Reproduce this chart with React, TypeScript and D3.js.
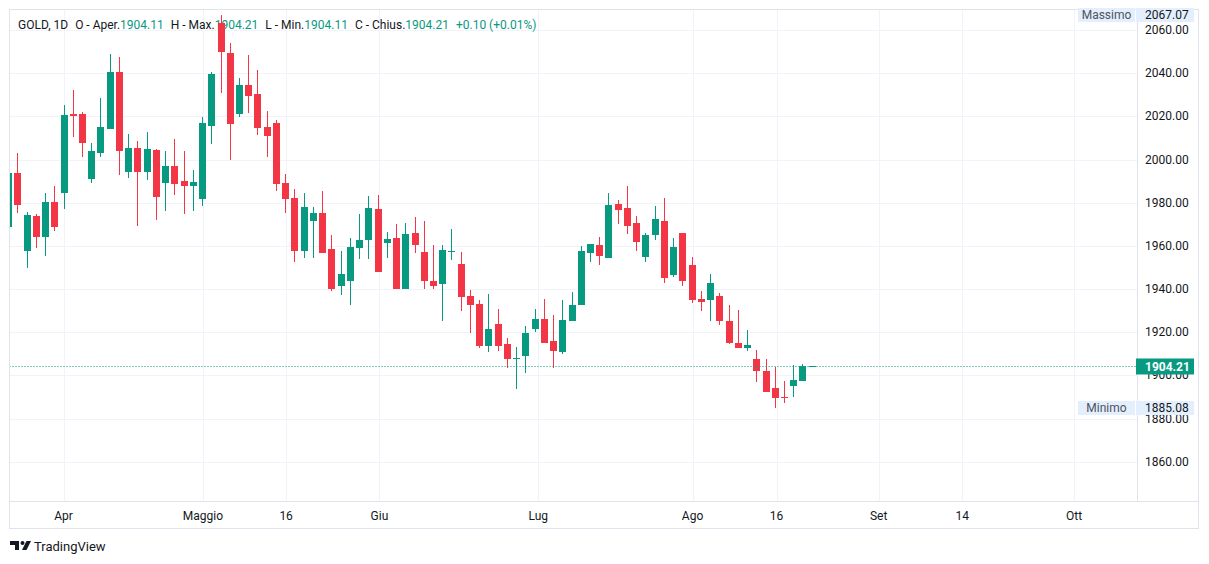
import React, { useEffect, useRef } from "react";
import * as d3 from "d3";

// daily bars (index 0 = first, partly hidden bar)
const opens = [
  1968.6, 1993.7, 1957.4, 1973.9, 1964.3, 1980.4, 1984.7, 2021.0, 2021.1, 1991.2,
  2003.2, 2014.3, 2040.6, 1994.4, 2005.4, 1994.4, 2004.4, 1989.3, 1997.2, 1990.1,
  1987.5, 1981.9, 2015.7, 2063.1, 2049.4, 2021.3, 2034.5, 2030.4, 2015.1, 2016.9,
  1989.2, 1982.2, 1957.8, 1971.7, 1975.3, 1958.6, 1941.2, 1943.5, 1958.8, 1962.9,
  1977.1, 1961.5, 1963.7, 1940.2, 1966.0, 1957.2, 1943.8, 1942.5, 1957.2, 1951.7,
  1936.9, 1933.1, 1913.8, 1923.9, 1914.6, 1907.6, 1908.8, 1921.3, 1926.2, 1916.0,
  1910.6, 1925.4, 1932.4, 1956.9, 1960.5, 1954.6, 1979.4, 1977.6, 1970.6, 1955.0,
  1964.8, 1971.6, 1946.7, 1966.0, 1951.2, 1935.5, 1934.7, 1936.9, 1925.3, 1915.1,
  1912.9, 1907.7, 1902.1, 1894.3, 1890.1, 1894.9, 1897.6, 1904.11,
];
const highs = [
  1995.0, 2003.2, 1975.7, 1974.8, 1984.5, 1987.9, 2025.3, 2032.2, 2022.0, 2007.7,
  2028.7, 2049.0, 2047.6, 2011.9, 2008.6, 2012.6, 2005.0, 2004.0, 2009.5, 2004.0,
  1995.2, 2019.7, 2040.7, 2067.07, 2053.8, 2037.6, 2048.4, 2041.5, 2022.5, 2018.5,
  1993.3, 1986.4, 1984.5, 1978.1, 1985.5, 1965.1, 1957.7, 1963.7, 1974.8, 1983.1,
  1983.6, 1966.5, 1970.2, 1970.6, 1973.4, 1971.6, 1960.5, 1960.5, 1967.9, 1957.2,
  1939.6, 1935.0, 1937.8, 1930.8, 1917.4, 1913.2, 1923.0, 1930.8, 1935.5, 1928.1,
  1935.0, 1938.7, 1960.0, 1961.0, 1964.2, 1984.5, 1981.3, 1987.8, 1973.9, 1966.0,
  1978.5, 1982.2, 1963.7, 1966.0, 1954.9, 1939.2, 1947.0, 1938.2, 1932.7, 1930.4,
  1921.1, 1911.9, 1907.7, 1903.7, 1897.2, 1904.9, 1905.4, 1904.21,
];
const lows = [
  1966.0, 1975.4, 1949.7, 1959.2, 1955.5, 1967.1, 1977.3, 2010.6, 2001.3, 1989.2,
  2001.3, 2014.0, 1992.9, 1991.6, 1969.4, 1990.6, 1972.0, 1976.2, 1983.6, 1974.7,
  1976.2, 1978.5, 2007.4, 2030.7, 1999.8, 2019.9, 2021.7, 2011.4, 2001.3, 1985.5,
  1975.4, 1952.3, 1954.6, 1954.6, 1956.9, 1939.3, 1937.0, 1932.4, 1954.1, 1953.7,
  1948.1, 1954.6, 1939.8, 1940.2, 1956.9, 1940.2, 1940.2, 1925.4, 1953.5, 1930.0,
  1919.4, 1912.9, 1910.6, 1911.1, 1903.2, 1893.5, 1900.9, 1920.3, 1914.8, 1903.2,
  1910.1, 1925.0, 1932.4, 1952.7, 1951.3, 1954.6, 1970.3, 1965.7, 1957.4, 1952.3,
  1962.5, 1943.0, 1945.8, 1941.6, 1933.3, 1930.0, 1925.0, 1923.1, 1914.3, 1912.5,
  1911.1, 1896.7, 1892.1, 1885.08, 1887.0, 1889.8, 1897.6, 1904.11,
];
const closes = [
  1993.7, 1978.7, 1974.4, 1964.3, 1980.4, 1968.9, 2020.5, 2020.2, 2007.8, 2004.0,
  2015.1, 2040.6, 2004.1, 2005.4, 1994.4, 2005.0, 1982.8, 1997.2, 1988.8, 1987.5,
  1989.6, 2016.9, 2039.6, 2050.0, 2016.6, 2034.5, 2029.6, 2014.8, 2011.1, 1988.8,
  1981.8, 1957.4, 1978.1, 1975.3, 1956.9, 1940.2, 1947.0, 1959.5, 1962.8, 1977.6,
  1948.1, 1963.2, 1939.8, 1965.6, 1960.6, 1943.5, 1941.2, 1958.1, 1957.7, 1936.1,
  1932.4, 1913.8, 1921.7, 1913.4, 1907.4, 1908.0, 1919.7, 1926.2, 1914.8, 1911.1,
  1925.7, 1932.7, 1957.7, 1960.9, 1955.5, 1979.0, 1976.8, 1969.4, 1962.0, 1965.1,
  1972.5, 1944.9, 1959.5, 1943.9, 1934.7, 1934.2, 1942.9, 1925.0, 1914.8, 1912.5,
  1914.2, 1901.8, 1892.1, 1889.3, 1889.3, 1898.0, 1904.4, 1904.21,
];

// time axis labels and the bar index they sit on
const timeLabels = ["Apr", "Maggio", "16", "Giu", "Lug", "Ago", "16", "Set", "14", "Ott"];
const timeIndex = [6, 21.1, 30.1, 40.2, 57.4, 74.1, 83.2, 94.25, 103.3, 115.4];

const priceTicks = [1860, 1880, 1900, 1920, 1940, 1960, 1980, 2000, 2020, 2040, 2060];

const symbol = "GOLD, 1D";
const lastOpen = 1904.11, lastHigh = 1904.21, lastLow = 1904.11, lastClose = 1904.21;
const change = "+0.10 (+0.01%)";

const UP = "#089981";
const DOWN = "#f23645";
const FONT = "Roboto, 'Liberation Sans', sans-serif";

export default function App() {
  const svgRef = useRef(null);

  useEffect(() => {
    const W = 1209, H = 564;
    const left = 9.5, right = 1137.5, top = 9.5, bottom = 501.5, axisBottom = 528.5, outerRight = 1198.5;

    const svg = d3.select(svgRef.current)
      .html("")
      .attr("width", W)
      .attr("height", H)
      .style("position", "absolute")
      .style("left", 0)
      .style("top", 0)
      .style("font-family", FONT);

    svg.append("rect").attr("width", W).attr("height", H).attr("fill", "#fff");

    const x = d3.scaleLinear().domain([0, opens.length - 1]).range([8.1, 811.7]);
    const y = d3.scaleLinear().domain([1860, 2060]).range([461.7, 30]);

    // grid
    svg.append("g").selectAll("line").data(priceTicks).enter().append("line")
      .attr("x1", left).attr("x2", right)
      .attr("y1", d => Math.round(y(d)) + 0.5).attr("y2", d => Math.round(y(d)) + 0.5)
      .attr("stroke", "#f0f3fa");
    svg.append("g").selectAll("line").data(timeIndex).enter().append("line")
      .attr("x1", d => Math.round(x(d)) + 0.5).attr("x2", d => Math.round(x(d)) + 0.5)
      .attr("y1", top).attr("y2", bottom)
      .attr("stroke", "#f0f3fa");

    // legend
    const legend = svg.append("text")
      .attr("x", 18).attr("y", 28.5)
      .style("font-size", "12px")
      .attr("fill", "#131722");
    const parts = [
      [symbol, "#131722", 0],
      ["O - Aper.", "#131722", 7],
      [lastOpen.toFixed(2), UP, 0],
      ["H - Max.", "#131722", 7],
      [lastHigh.toFixed(2), UP, 0],
      ["L - Min.", "#131722", 7],
      [lastLow.toFixed(2), UP, 0],
      ["C - Chius.", "#131722", 7],
      [lastClose.toFixed(2), UP, 0],
      [change, UP, 7],
    ];
    parts.forEach(([t, c, dx]) => {
      legend.append("tspan").attr("dx", dx).attr("fill", c).text(t);
    });

    // candles
    svg.append("clipPath").attr("id", "plot-clip")
      .append("rect").attr("x", left).attr("y", top).attr("width", right - left).attr("height", bottom - top);
    const g = svg.append("g").attr("clip-path", "url(#plot-clip)");

    opens.forEach((o, i) => {
      const c = closes[i];
      const col = c >= o ? UP : DOWN;
      const cx = Math.round(x(i));
      g.append("rect")
        .attr("x", cx).attr("width", 1)
        .attr("y", Math.round(y(highs[i])))
        .attr("height", Math.max(1, Math.round(y(lows[i])) - Math.round(y(highs[i]))))
        .attr("fill", col);
      const yt = Math.round(y(Math.max(o, c)));
      const yb = Math.round(y(Math.min(o, c)));
      g.append("rect")
        .attr("x", cx - 3).attr("width", 7)
        .attr("y", yt).attr("height", Math.max(1, yb - yt))
        .attr("fill", col);
    });

    // last price line
    const yLast = Math.round(y(lastClose)) + 0.5;
    svg.append("line")
      .attr("x1", left).attr("x2", right)
      .attr("y1", yLast).attr("y2", yLast)
      .attr("stroke", UP).attr("stroke-dasharray", "1,2");

    // frame
    svg.append("rect")
      .attr("x", left).attr("y", top)
      .attr("width", outerRight - left).attr("height", axisBottom - top)
      .attr("fill", "none").attr("stroke", "#e0e3eb");
    svg.append("line").attr("x1", left).attr("x2", outerRight).attr("y1", bottom).attr("y2", bottom).attr("stroke", "#e0e3eb");
    svg.append("line").attr("x1", right).attr("x2", right).attr("y1", top).attr("y2", bottom).attr("stroke", "#e0e3eb");

    // price axis
    svg.append("g").selectAll("text").data(priceTicks).enter().append("text")
      .attr("x", 1145).attr("y", d => y(d) + 4)
      .style("font-size", "12px")
      .attr("fill", "#131722")
      .text(d => d.toFixed(2));

    // high / low markers
    const hi = d3.max(highs), lo = d3.min(lows);
    [["Massimo", hi], ["Minimo", lo]].forEach(([name, v]) => {
      const yy = Math.round(y(v));
      svg.append("rect").attr("x", 1078).attr("y", yy - 7).attr("width", 57).attr("height", 14).attr("fill", "#e3effd");
      svg.append("rect").attr("x", 1136).attr("y", yy - 7).attr("width", 58).attr("height", 14).attr("fill", "#e3effd");
      svg.append("text").attr("x", 1106.5).attr("y", yy + 4).attr("text-anchor", "middle")
        .style("font-size", "12px").attr("fill", "#50535e").text(name);
      svg.append("text").attr("x", 1145).attr("y", yy + 4)
        .style("font-size", "12px").attr("fill", "#131722").text(v.toFixed(2));
    });

    // last price label
    svg.append("rect").attr("x", 1136).attr("y", yLast - 8).attr("width", 58).attr("height", 16).attr("fill", UP);
    svg.append("text").attr("x", 1145).attr("y", yLast + 4.5)
      .style("font-size", "12px").style("font-weight", "bold").attr("fill", "#fff")
      .text(lastClose.toFixed(2));

    // time axis
    svg.append("g").selectAll("text").data(timeLabels).enter().append("text")
      .attr("x", (d, i) => x(timeIndex[i])).attr("y", 520)
      .attr("text-anchor", "middle")
      .style("font-size", "12px")
      .attr("fill", "#131722")
      .text(d => d);

    // logo
    const logo = svg.append("g").attr("fill", "#131722");
    logo.append("path").attr("d", "M10 541 H19 V550 H15 V545 H10 Z");
    logo.append("circle").attr("cx", 22.5).attr("cy", 543).attr("r", 2);
    logo.append("path").attr("d", "M26.5 541 H31 L26.5 550 H22 Z");
    svg.append("text").attr("x", 34).attr("y", 550.5)
      .style("font-size", "13px").attr("fill", "#131722").text("TradingView");
  }, []);

  return <svg ref={svgRef}></svg>;
}
